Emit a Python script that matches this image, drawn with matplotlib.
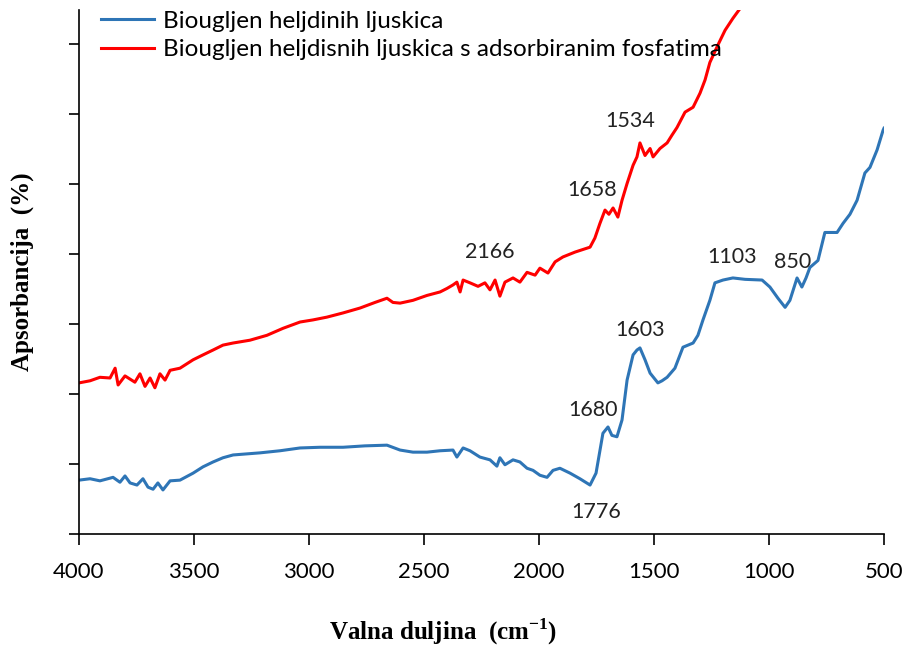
import matplotlib.pyplot as plt

# wavenumber (cm-1) and absorbance (arbitrary units)
wn_blue = [4000, 3952, 3909, 3852, 3822, 3800, 3778, 3748, 3722, 3700, 3678, 3657, 3635, 3604,
           3561, 3504, 3461, 3417, 3374, 3330, 3213, 3126, 3039, 2952, 2852, 2757, 2661, 2604,
           2548, 2487, 2430, 2374, 2357, 2330, 2300, 2257, 2213, 2183, 2170, 2148, 2113, 2083,
           2052, 2026, 1996, 1965, 1939, 1909, 1865, 1822, 1778, 1752, 1722, 1700, 1683, 1661,
           1639, 1617, 1591, 1574, 1561, 1539, 1517, 1483, 1465, 1443, 1409, 1374, 1330, 1309,
           1287, 1257, 1235, 1200, 1157, 1104, 1030, 996, 961, 930, 909, 878, 857, 839, 822,
           787, 757, 704, 678, 648, 617, 583, 561, 530, 504, 500]
ab_blue = [0.77, 0.79, 0.76, 0.81, 0.74, 0.83, 0.73, 0.70, 0.79, 0.67, 0.64, 0.73, 0.63, 0.76,
           0.77, 0.87, 0.96, 1.03, 1.09, 1.13, 1.16, 1.19, 1.23, 1.24, 1.24, 1.26, 1.27, 1.20,
           1.17, 1.17, 1.19, 1.20, 1.10, 1.23, 1.19, 1.10, 1.06, 0.97, 1.09, 0.99, 1.06, 1.03,
           0.94, 0.91, 0.84, 0.81, 0.91, 0.94, 0.87, 0.79, 0.70, 0.87, 1.44, 1.53, 1.41, 1.39,
           1.63, 2.20, 2.56, 2.63, 2.66, 2.49, 2.30, 2.16, 2.19, 2.24, 2.37, 2.67, 2.73, 2.84,
           3.06, 3.34, 3.59, 3.63, 3.66, 3.64, 3.63, 3.53, 3.37, 3.24, 3.34, 3.66, 3.53, 3.66, 3.81,
           3.91, 4.31, 4.31, 4.44, 4.57, 4.77, 5.16, 5.24, 5.49, 5.77, 5.80]

wn_red = [4000, 3952, 3909, 3865, 3843, 3830, 3800, 3757, 3735, 3713, 3691, 3670, 3648, 3626,
          3604, 3561, 3504, 3461, 3417, 3374, 3330, 3257, 3183, 3113, 3039, 2983, 2922, 2852,
          2778, 2713, 2661, 2635, 2604, 2548, 2487, 2430, 2400, 2374, 2357, 2343, 2330, 2300,
          2265, 2235, 2213, 2191, 2170, 2148, 2113, 2083, 2052, 2017, 1996, 1961, 1930, 1896,
          1843, 1778, 1757, 1735, 1713, 1696, 1678, 1657, 1639, 1617, 1591, 1574, 1561, 1539,
          1517, 1504, 1474, 1443, 1422, 1400, 1365, 1330, 1300, 1278, 1257, 1222, 1191, 1157,
          1126, 1110]
ab_red = [2.16, 2.19, 2.24, 2.23, 2.37, 2.13, 2.26, 2.17, 2.29, 2.11, 2.23, 2.09, 2.29, 2.20,
          2.34, 2.37, 2.49, 2.56, 2.63, 2.70, 2.73, 2.77, 2.84, 2.94, 3.03, 3.06, 3.10, 3.16,
          3.23, 3.31, 3.37, 3.31, 3.30, 3.34, 3.41, 3.46, 3.51, 3.56, 3.60, 3.46, 3.63, 3.59,
          3.54, 3.59, 3.49, 3.63, 3.40, 3.60, 3.66, 3.60, 3.74, 3.70, 3.80, 3.73, 3.89, 3.96,
          4.03, 4.10, 4.23, 4.44, 4.63, 4.57, 4.66, 4.53, 4.77, 5.01, 5.27, 5.39, 5.59, 5.41,
          5.51, 5.39, 5.51, 5.59, 5.70, 5.81, 6.03, 6.10, 6.30, 6.49, 6.74, 6.99, 7.20, 7.37,
          7.51, 7.65]

peak_labels = ["2166", "1534", "1658", "1103", "850", "1603", "1680", "1776"]
peak_x = [2213, 1604, 1770, 1161, 896, 1561, 1765, 1752]
peak_y = [4.03, 5.91, 4.91, 3.96, 3.89, 2.91, 1.77, 0.31]

x_ticks = [4000, 3500, 3000, 2500, 2000, 1500, 1000, 500]

fig = plt.figure(figsize=(9.06, 6.48), dpi=100)
ax = fig.add_axes([0.0872, 0.1759, 0.8885, 0.8087])

l1, = ax.plot(wn_blue, ab_blue, color="#2E75B6", lw=2.2)
l2, = ax.plot(wn_red, ab_red, color="#FF0000", lw=2.2)

for t, x, y in zip(peak_labels, peak_x, peak_y):
    ax.text(x, y, t, ha="center", va="center", fontsize=15.5, family="Lato", color="#222222")

ax.set_xlim(4000, 500)
ax.set_ylim(0, 7.49)
ax.set_xticks(x_ticks)
ax.set_xticklabels([str(v) for v in x_ticks], family="Lato", fontsize=16)
ax.set_yticks(range(8))
ax.set_yticklabels([])
ax.tick_params(axis="x", direction="out", length=8, pad=12, width=1.2)
ax.tick_params(axis="y", direction="out", length=7, width=1.2)
for s in ["top", "right"]:
    ax.spines[s].set_visible(False)
for s in ["left", "bottom"]:
    ax.spines[s].set_linewidth(1.2)

ax.set_xlabel("Valna duljina  (cm$^{\\mathregular{-1}}$)", family="Liberation Serif",
              fontweight="bold", fontsize=18)
ax.xaxis.set_label_coords(0.452, -0.158)
ax.set_ylabel("Apsorbancija  (%)", family="Liberation Serif", fontweight="bold",
              fontsize=18)
ax.yaxis.set_label_coords(-0.056, 0.5)

leg = ax.legend([l1, l2], ["Biougljen heljdinih ljuskica",
                           "Biougljen heljdisnih ljuskica s adsorbiranim fosfatima"],
                loc="upper left", bbox_to_anchor=(0.0, 1.04), frameon=False,
                handlelength=2.2, handletextpad=0.35, labelspacing=0.3,
                prop={"family": "Lato", "size": 17.5})

fig.savefig("out.png", dpi=100)
